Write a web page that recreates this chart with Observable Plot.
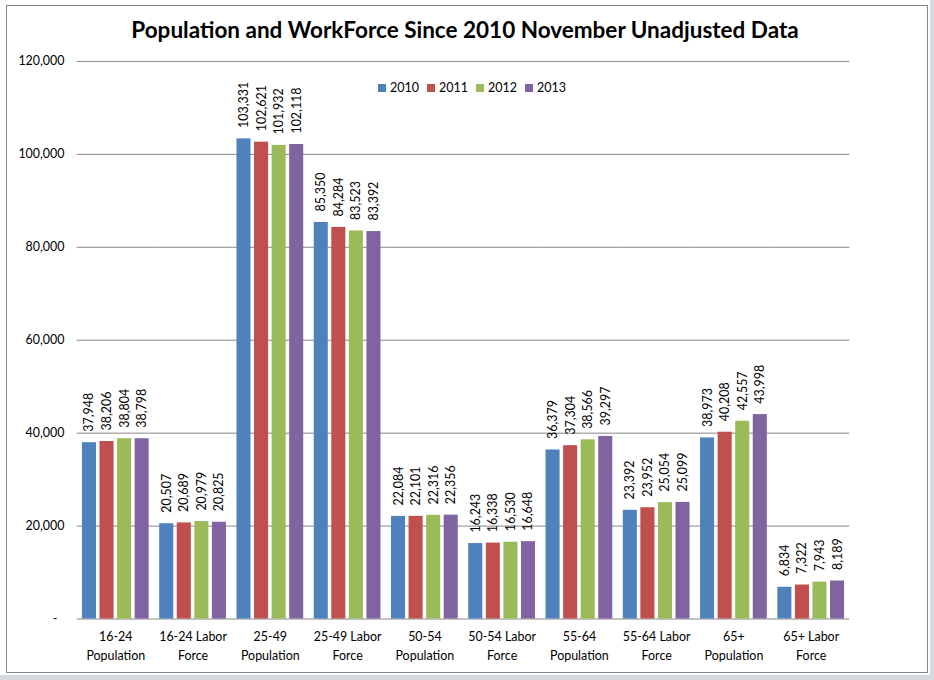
<!DOCTYPE html>
<html><head><meta charset="utf-8">
<script src="https://cdn.jsdelivr.net/npm/d3@7"></script>
<script src="https://cdn.jsdelivr.net/npm/@observablehq/plot@0.6"></script>
<style>
body{margin:0;background:#d6d9dd;font-family:Lato,"Open Sans",sans-serif;}
#wrap{position:relative;width:930px;height:675px;background:#fff;overflow:hidden;}
#frame{position:absolute;left:6px;top:5px;width:922px;height:668px;border:1px solid #878787;box-sizing:border-box;}
#title{position:absolute;left:0;top:16px;width:930px;text-align:center;font:bold 22.5px Lato,sans-serif;color:#000;}
#chart{position:absolute;left:0;top:45px;}
#legend{position:absolute;left:378px;top:80px;font:12.5px Lato,sans-serif;color:#000;display:flex;gap:0;}
#legend span.item{display:inline-flex;align-items:center;width:49px;}
#legend span.sw{display:inline-block;width:8px;height:8px;margin-right:4px;}
</style></head>
<body>
<div id="wrap">
  <div id="frame"></div>
  <div id="title">Population and WorkForce Since 2010 November Unadjusted Data</div>
  <div id="chart"></div>
  <div id="legend"></div>
</div>
<script>
const years = ["2010", "2011", "2012", "2013"];
const colors = ["#4F81BD", "#C0504D", "#9BBB59", "#8064A2"];
const categories = ["16-24 Population", "16-24 Labor Force", "25-49 Population", "25-49 Labor Force",
  "50-54 Population", "50-54 Labor Force", "55-64 Population", "55-64 Labor Force",
  "65+ Population", "65+ Labor Force"];
const categoryLabels = ["16-24\nPopulation", "16-24 Labor\nForce", "25-49\nPopulation", "25-49 Labor\nForce",
  "50-54\nPopulation", "50-54 Labor\nForce", "55-64\nPopulation", "55-64 Labor\nForce",
  "65+\nPopulation", "65+ Labor\nForce"];
const v2010 = [37948, 20507, 103331, 85350, 22084, 16243, 36379, 23392, 38973, 6834];
const v2011 = [38206, 20689, 102621, 84284, 22101, 16338, 37304, 23952, 40208, 7322];
const v2012 = [38804, 20979, 101932, 83523, 22316, 16530, 38566, 25054, 42557, 7943];
const v2013 = [38798, 20825, 102118, 83392, 22356, 16648, 39297, 25099, 43998, 8189];
const yTicks = [0, 20000, 40000, 60000, 80000, 100000, 120000];

const series = [v2010, v2011, v2012, v2013];
const data = categories.flatMap((c, i) => years.map((y, j) => ({category: c, year: y, value: series[j][i]})));
const labelOf = new Map(categories.map((c, i) => [c, categoryLabels[i]]));
const fmt = d3.format(",");

const plotWidth = 934, mL = 77, mR = 81, pIn = 0.136, pOut = 0.068;
const step = (plotWidth - mL - mR) / (categories.length - pIn + 2 * pOut);
const ext = -step * pIn / 2;

const plot = Plot.plot({
  width: plotWidth,
  height: 626,
  marginTop: 16,
  marginBottom: 50,
  marginLeft: mL,
  marginRight: mR,
  style: {fontFamily: "Lato, sans-serif", fontSize: "12px", color: "#000", background: "transparent"},
  fx: {domain: categories, paddingInner: pIn, paddingOuter: pOut, round: false, label: null},
  x: {domain: years, paddingInner: 0.2, paddingOuter: 0, round: false, axis: null},
  y: {domain: [0, 120000], ticks: yTicks, label: null},
  color: {domain: years, range: colors},
  marks: [
    Plot.ruleY(yTicks, {stroke: "#868686", strokeWidth: 1, insetLeft: ext, insetRight: ext}),
    Plot.axisY(yTicks, {tickSize: 0, tickPadding: 18, label: null,
      tickFormat: d => d === 0 ? "-\u2007" : fmt(d), fill: "#000", fontSize: 12.5}),
    Plot.axisFx({anchor: "bottom", tickSize: 0, tickPadding: 9, label: null, lineHeight: 1.5,
      tickFormat: d => labelOf.get(d), fill: "#000", fontSize: 12.5}),
    Plot.barY(data, {fx: "category", x: "year", y: "value", fill: "year"}),
    Plot.text(data, {fx: "category", x: "year", y: "value", text: d => fmt(d.value),
      rotate: -90, textAnchor: "start", dy: -11, fill: "#000", fontSize: 12.5})
  ]
});
document.getElementById("chart").appendChild(plot);

const legend = document.getElementById("legend");
years.forEach((y, j) => {
  const item = document.createElement("span");
  item.className = "item";
  item.innerHTML = `<span class="sw" style="background:${colors[j]}"></span>${y}`;
  legend.appendChild(item);
});
</script>
</body></html>
